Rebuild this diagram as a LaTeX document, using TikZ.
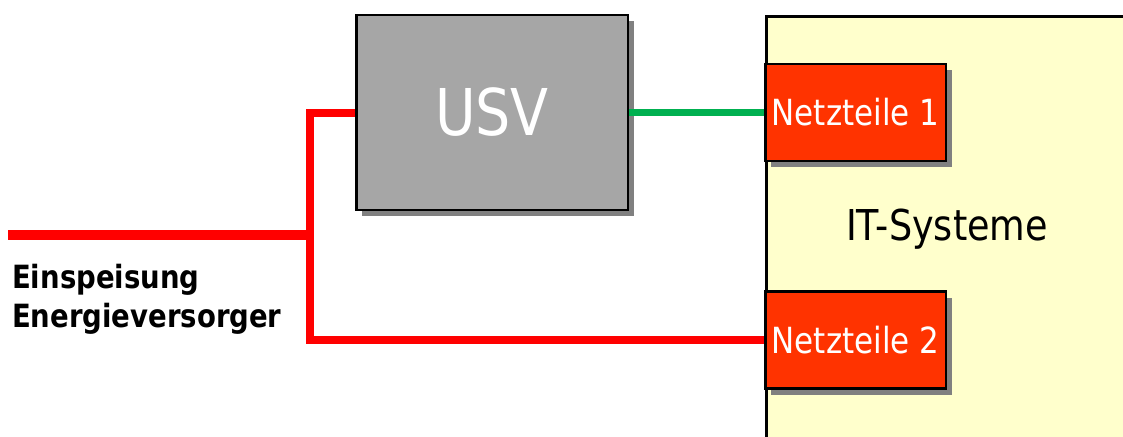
\documentclass[tikz,border=0pt]{standalone}
\usepackage{fontspec}
\newfontfamily\tah[FakeStretch=0.86]{DejaVu Sans}
\usetikzlibrary{shadows}
\definecolor{usvgray}{HTML}{A6A6A6}
\definecolor{netzred}{HTML}{FF3300}
\definecolor{ityellow}{HTML}{FFFFCC}
\definecolor{shadowgray}{HTML}{808080}
\definecolor{linegreen}{HTML}{00B050}
\begin{document}
\begin{tikzpicture}[x=1pt,y=-1pt,
  box/.style={draw=black, line width=2.5pt, rectangle, inner sep=0pt,
    drop shadow={shadow xshift=6pt, shadow yshift=-6pt, fill=shadowgray, opacity=1}},
  usvbox/.style={box, fill=usvgray, text=white, minimum width=271.5pt, minimum height=194.5pt,
    font=\tah\fontsize{64.5}{70}\selectfont},
  netzbox/.style={box, fill=netzred, text=white, minimum width=180.5pt, minimum height=97pt,
    font=\tah\fontsize{36}{40}\selectfont},
  redline/.style={draw=red, line width=8pt, line join=miter},
  feedline/.style={draw=red, line width=10pt},
  greenline/.style={draw=linegreen, line width=7pt}
]
\useasboundingbox (0,0) rectangle (1123,436);
\clip (0,0) rectangle (1123,436);
\fill[white] (0,0) rectangle (1123,436);
% IT-Systeme container
\node[draw=black, line width=2.5pt, fill=ityellow, rectangle, inner sep=0pt,
  minimum width=400pt, minimum height=460pt, anchor=north west] (itbox) at (765.25,15.25) {};
\node[font=\tah\fontsize{42.5}{46}\selectfont, inner sep=0pt] (itlabel) at (947,229) {IT-Systeme};
% boxes
\node[usvbox] (usv) at (492,112.5) {USV};
\node[netzbox] (netz1) at (855.5,112.5) {Netzteile 1};
\node[netzbox] (netz2) at (855.5,340) {Netzteile 2};
% connectors
\coordinate (feed) at (8,234.5);
\coordinate (junc) at (310,234.5);
\draw[feedline] (feed) -- (junc);
\draw[redline] (usv.west) -- (usv.west -| junc) -- (netz2.west -| junc) -- (netz2.west);
\draw[greenline] (usv.east) -- (netz1.west);
% label
\node[font=\tah\bfseries\fontsize{32}{39}\selectfont, align=left, anchor=base west, inner sep=0pt]
  (feedlabel) at (12,327) {Einspeisung\\Energieversorger};
\end{tikzpicture}
\end{document}
